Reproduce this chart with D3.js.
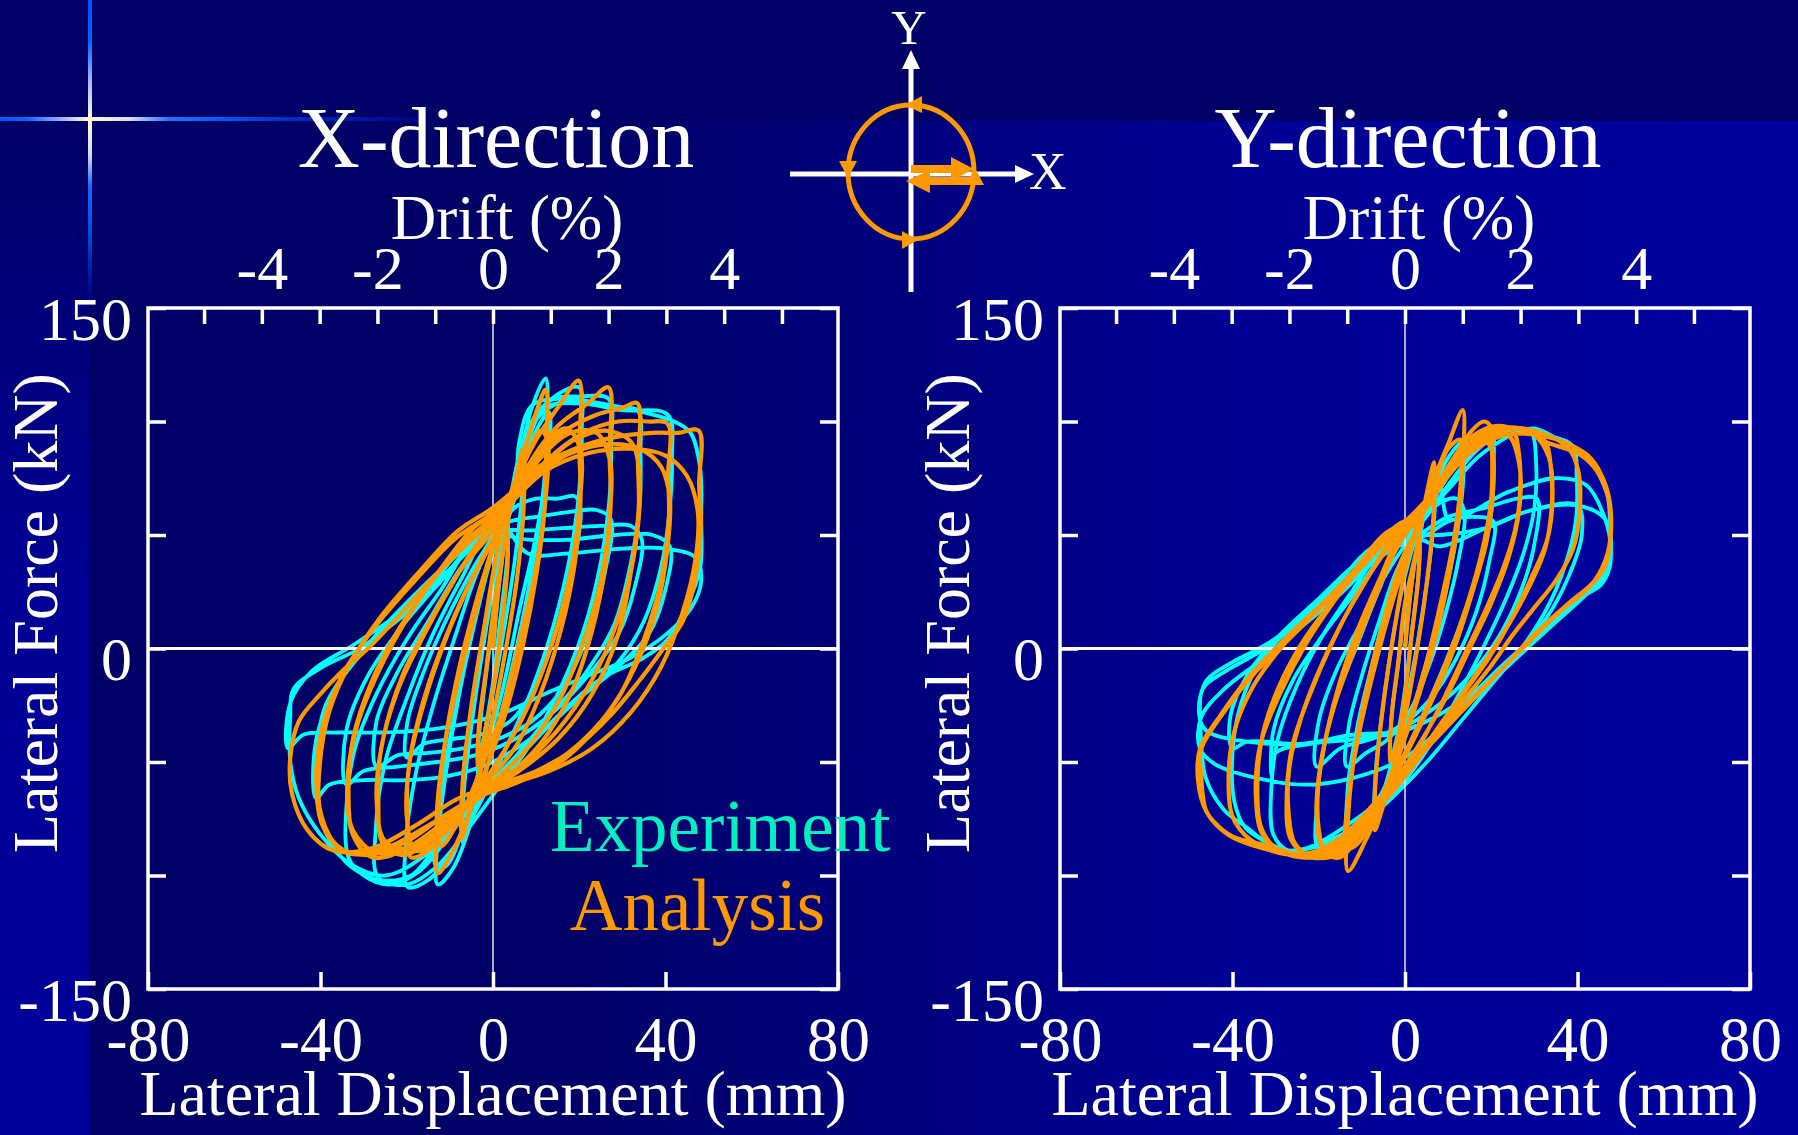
<!DOCTYPE html>
<html><head><meta charset="utf-8">
<script src="https://cdn.jsdelivr.net/npm/d3@7"></script>
<style>
html,body{margin:0;padding:0;background:#000066;overflow:hidden}
svg{display:block}
</style>
</head><body>
<svg id="c" width="1798" height="1135"></svg>
<script>
// ---------- data ----------
const dispTicks = [-80, -40, 0, 40, 80];
const forceTicks = [-150, -100, -50, 0, 50, 100, 150];
const forceLabels = [-150, 0, 150];
const driftTicks = [-5, -4, -3, -2, -1, 0, 1, 2, 3, 4, 5];
const driftLabels = [-4, -2, 0, 2, 4];
const mmPerDrift = 13.4;
const seriesNames = ["Experiment", "Analysis"];
const panelTitles = ["X-direction", "Y-direction"];

// X-direction, experiment (displacement mm, force kN), one array per cycle
const expX = [
[[0,0],[1.5,30],[3.5,56],[3.3,40],[1.5,10],[0,-15],[-2,-38],[-3.5,-56],[-3.3,-40],[-1.5,-10],[0.5,18]],
[[2.5,48],[5,76],[7,92],[6.8,70],[5,38],[2,2],[-1,-30],[-4,-60],[-7,-86],[-6.8,-64],[-5,-34],[-2,4],[0.5,32]],
[[3,58],[6,82],[9,106],[12.2,119],[12.6,100],[12,76],[10,46],[7,14],[3,-20],[-1,-50],[-5,-76],[-9,-96],[-12.8,-104],[-13,-88],[-11,-56],[-8,-22],[-4,14],[0,42]],
[[4,60],[7,80],[10,96],[13,104],[12.5,80],[10,50],[6,16],[2,-20],[-3,-54],[-7,-80],[-11,-96],[-13.2,-96],[-12.2,-66],[-9,-30],[-5,5],[-1,36]],
[[3,60],[7,86],[11,104],[15,112],[20,115],[20.6,96],[20,70],[18,42],[14,10],[9,-18],[3,-44],[-3,-68],[-9,-88],[-15,-102],[-19.8,-105],[-20.2,-86],[-18,-56],[-14,-26],[-9,4],[-4,32],[0,48]],
[[5,62],[10,66],[15,66],[19,67],[20.3,62],[19,40],[15,10],[10,-16],[4,-32],[-3,-38],[-10,-40],[-16,-42],[-20,-48],[-19.8,-32],[-16,-10],[-11,12],[-5,34],[0,50]],
[[5,72],[9,100],[14,110],[20,111],[26.8,110],[27.4,90],[27,66],[25,38],[21,8],[15,-20],[8,-44],[1,-62],[-6,-80],[-13,-96],[-20,-104],[-26.6,-101],[-27.2,-80],[-25,-50],[-20,-22],[-14,6],[-7,32],[-1,52]],
[[4,56],[10,58],[17,60],[24,61],[27.3,57],[26,34],[22,6],[16,-18],[9,-32],[1,-40],[-7,-44],[-15,-46],[-22,-47],[-27,-52],[-27,-32],[-22,-10],[-15,12],[-8,34],[-1,52]],
[[5,70],[9,98],[15,108],[22,109],[29,106],[33.5,105],[34.2,86],[34,64],[32,38],[28,10],[21,-12],[13,-30],[5,-48],[-3,-64],[-10,-82],[-17,-98],[-24,-104],[-30,-100],[-33.5,-92],[-34,-70],[-32,-44],[-27,-20],[-20,4],[-12,26],[-5,46]],
[[1,52],[8,52],[16,53],[25,54],[32,54],[34.5,48],[33,28],[29,6],[22,-12],[14,-28],[5,-40],[-4,-47],[-13,-50],[-22,-52],[-30,-54],[-34,-60],[-34,-36],[-29,-12],[-21,10],[-12,30],[-5,46]],
[[3,60],[7,90],[12,106],[20,108],[30,105],[40.5,103],[41.5,84],[41,62],[39,36],[35,12],[29,-6],[21,-20],[12,-36],[4,-52],[-4,-66],[-12,-84],[-19,-100],[-26,-102],[-33,-96],[-38,-84],[-40.5,-70],[-41,-50],[-39,-26],[-33,-8],[-25,8],[-16,24],[-8,42]],
[[0,50],[8,48],[18,48],[28,50],[37,50],[41,45],[40,26],[36,6],[29,-8],[20,-22],[10,-38],[0,-50],[-10,-56],[-20,-58],[-30,-58],[-38,-60],[-41,-66],[-41,-40],[-36,-16],[-28,4],[-18,24],[-8,42]],
[[1,57],[5,67],[6,90],[9,107],[15,110],[25,108],[35,104],[42,100],[45.8,95],[48,80],[48.3,57],[48,35],[44.7,18],[40.5,4],[35,-4],[24.5,-14],[13.8,-32],[3.2,-53],[-5,-70],[-15,-90],[-25,-100],[-33,-95],[-40,-82],[-45,-66],[-47,-50],[-47,-30],[-46.3,-18],[-39.4,-8],[-30.9,0],[-22.4,12],[-13.8,26],[-5.3,45],[1,57]],
[[8,42],[18,42],[30,44],[40,44],[47,40],[48.3,30],[46,18],[40,6],[32,-4],[22,-12],[12,-20],[3,-28],[-6,-33],[-16,-36],[-26,-37],[-36,-37],[-44,-38],[-47.5,-44],[-47,-24],[-42,-10],[-32,2],[-20,18],[-10,35],[-2,50]]
];

// X-direction, analysis
const anaX = [
[[0,0],[1.5,30],[3.2,52],[3.4,38],[2,10],[0,-18],[-2,-38],[-3.5,-52],[-3.3,-35],[-1.5,-8],[0.5,22]],
[[2.5,45],[5,72],[7,88],[7.1,62],[5.5,30],[3,0],[0,-30],[-3,-55],[-6,-76],[-7.2,-84],[-7,-58],[-5,-25],[-2,10],[0.5,38]],
[[3,60],[7,86],[10,104],[12.2,114],[12.3,86],[12,62],[10,32],[7,2],[3,-28],[-1,-50],[-5,-70],[-9,-88],[-12.8,-99],[-12.7,-72],[-11,-40],[-8,-10],[-4,20],[0,45]],
[[4,68],[8,86],[11,96],[12.6,92],[12.2,66],[10,36],[6,2],[2,-28],[-3,-54],[-8,-76],[-12,-87],[-13,-78],[-11.5,-46],[-8,-14],[-4,16],[0,44]],
[[5,72],[10,92],[15,106],[19.9,118],[20,88],[20.3,66],[19,38],[16,10],[11,-20],[5,-44],[-2,-60],[-9,-76],[-15,-89],[-19,-92],[-19.8,-78],[-19.5,-52],[-16,-24],[-11,4],[-5,30],[0,48]],
[[6,74],[12,90],[17,97],[20.2,88],[20,62],[18,34],[14,4],[8,-26],[1,-50],[-7,-71],[-13,-85],[-18,-89],[-20,-74],[-19,-46],[-15,-16],[-9,14],[-3,38],[2,55]],
[[8,80],[15,98],[22,108],[26.8,115],[27,86],[27.3,64],[26,36],[23,8],[18,-20],[11,-42],[3,-57],[-6,-70],[-14,-84],[-21,-91],[-25.5,-86],[-26.6,-68],[-26,-45],[-22,-18],[-16,6],[-9,30],[-3,48]],
[[4,64],[11,84],[18,95],[24,95],[27.2,82],[27,58],[25,30],[21,3],[15,-24],[7,-46],[-2,-62],[-11,-77],[-19,-88],[-25,-85],[-27,-66],[-25.5,-40],[-21,-12],[-14,14],[-7,36],[0,52]],
[[8,78],[16,95],[24,103],[30,106],[33.5,108],[33.6,82],[33.8,62],[32,34],[29,6],[23,-20],[15,-40],[6,-54],[-4,-66],[-13,-79],[-21,-89],[-28,-92],[-32.5,-82],[-33.5,-64],[-32.5,-40],[-28,-14],[-22,8],[-14,30],[-7,46],[0,58]],
[[11,80],[19,92],[26,96],[32,91],[34,76],[33.5,52],[31,26],[26,-2],[19,-26],[10,-46],[0,-60],[-10,-74],[-19,-87],[-27,-90],[-32.5,-80],[-33.8,-60],[-31.5,-34],[-26,-8],[-19,16],[-11,38],[-4,54]],
[[4,64],[12,82],[21,95],[29,100],[36,100],[40.5,99],[40.6,76],[40.8,58],[39,30],[35,4],[29,-22],[20,-42],[10,-55],[0,-62],[-10,-72],[-20,-85],[-29,-91],[-36,-87],[-40,-72],[-40.2,-52],[-38,-28],[-33,-6],[-26,14],[-17,34],[-8,52]],
[[0,62],[9,76],[18,86],[27,90],[34,88],[39,80],[41,66],[40.5,45],[38,18],[33,-8],[26,-30],[17,-48],[7,-58],[-4,-66],[-15,-78],[-25,-88],[-34,-90],[-39.5,-78],[-41,-58],[-39.5,-34],[-35,-12],[-28,8],[-19,28],[-9,48]],
[[0,60],[9,78],[19,88],[28,93],[37,95],[43,95],[47.7,96],[47.8,72],[48.2,55],[47,32],[44,12],[39.5,0],[34,-14],[27,-30],[19,-44],[10,-54],[1,-60],[-8,-66],[-18,-78],[-28,-88],[-37,-89],[-43,-80],[-46.6,-64],[-47,-48],[-45,-32],[-40,-20],[-35,-10],[-29,0],[-22,14],[-14,31],[-6,46]],
[[2,60],[12,78],[22,86],[32,88],[40,85],[45,76],[47.5,60],[47,40],[44,16],[39,-8],[32,-28],[23,-44],[13,-54],[3,-60]]
];

// Y-direction, experiment
const expY = [
[[0,0],[1.5,28],[3.4,50],[3.2,34],[1.5,6],[0,-18],[-1.5,-36],[-3.5,-50],[-3.2,-32],[-1.5,-6],[0,18]],
[[2.5,40],[5,64],[7,78],[6.8,58],[5,28],[2.5,-2],[0,-26],[-3,-50],[-5.5,-66],[-7,-74],[-6.7,-52],[-5,-24],[-2.5,8],[0,32]],
[[3,52],[7,72],[10,84],[13.4,91],[13.5,74],[12,50],[9,22],[5,-6],[1,-32],[-3,-54],[-8,-72],[-13,-82],[-13.3,-62],[-11,-34],[-7.5,-6],[-4,20],[0,42]],
[[4,56],[8,64],[12,66],[13.8,60],[12.5,40],[9.5,16],[5.5,-8],[1,-28],[-4,-40],[-9,-46],[-13.5,-52],[-13,-34],[-10,-12],[-6,12],[-2,34]],
[[3,52],[8,70],[13,84],[17,94],[20,97],[20.6,82],[20,60],[17.5,38],[13.5,14],[9,-8],[4,-30],[-1,-50],[-7,-68],[-13,-80],[-20,-88],[-20.5,-70],[-19,-46],[-16,-22],[-11,2],[-6,26],[-1,46]],
[[5,50],[10,56],[16,58],[20.5,56],[19.5,38],[16.5,16],[12,-4],[6,-22],[-1,-34],[-8,-40],[-15,-44],[-20.5,-52],[-20,-32],[-16,-10],[-10,12],[-4,34]],
[[3,54],[8,70],[14,86],[20,95],[27,97],[29.4,95],[30.4,82],[30,62],[27.5,42],[23,20],[17.5,-2],[12,-22],[6,-42],[0,-58],[-7,-72],[-15,-84],[-22,-88],[-27,-89],[-30.5,-82],[-31,-62],[-29.5,-40],[-25,-16],[-19,6],[-12,26],[-5,44]],
[[3,50],[10,58],[18.7,62],[26,66],[30.6,66],[30,46],[27,26],[22,6],[15,-12],[7,-26],[-2,-36],[-12,-40],[-22,-42],[-30,-46],[-31,-56],[-30.5,-36],[-26,-14],[-19,6],[-11,26],[-4,44]],
[[4,56],[10,72],[17,88],[24,96],[34.7,93],[39,89],[39.8,76],[39.6,56],[37,36],[33,18],[27,0],[20,-16],[13,-32],[6,-48],[-1,-62],[-8,-74],[-17,-84],[-27,-89],[-32.4,-85],[-37,-79],[-39.5,-68],[-40,-46],[-38,-24],[-33,-4],[-25,12],[-16,28],[-8,44]],
[[1,50],[8.1,50],[18.7,53],[29.4,61],[40,63],[41,50],[38,32],[33,14],[26,-2],[18,-16],[9,-28],[0,-36],[-12.1,-38],[-23.9,-42],[-36.6,-41],[-40,-44],[-40.5,-30],[-36,-10],[-29,6],[-20,22],[-11,38],[-3,48]],
[[4,58],[10,70],[18,86],[29.4,97],[34.7,93],[39,89],[43.2,83],[45.4,75],[47,67],[47.5,57],[47.5,36],[45.4,28],[42.2,24],[35.8,16],[28,2],[20,-12],[12,-28],[4,-46],[-3,-62],[-12,-76],[-22.8,-88],[-27,-89],[-32.4,-85],[-36.6,-79],[-42,-71],[-46.2,-57],[-47.3,-40],[-47.3,-20],[-46.2,-16],[-39.8,-8],[-32.4,0],[-22.8,14],[-14.3,28],[-7.9,40],[-1.5,53],[4.9,63],[8.1,71]],
[[10.2,57],[24,69],[34.7,75],[42,72],[46.4,57],[47.6,44],[46,32],[41,22],[34,10],[26,-4],[17,-20],[8,-36],[0,-48],[-12,-57],[-23,-60],[-34.5,-57],[-44,-51],[-47.6,-44],[-47.2,-30],[-42,-18],[-34,-6],[-25,8],[-15,24],[-6,40]],
[[3,48],[8.1,45],[18.7,53],[29.4,61],[40,63],[46.4,57],[47.8,46],[46,34],[40,22],[32,8],[23,-8],[14,-22],[5,-32],[-4,-38],[-12.1,-38],[-23.9,-42],[-36.6,-41],[-46.2,-36],[-47.8,-28],[-46,-14],[-40,-6],[-32,2],[-22,16],[-12,32],[-4,46]]
];

// Y-direction, analysis
const anaY = [
[[0,0],[1.5,28],[3.3,50],[3.1,32],[1.5,5],[0,-20],[-1.5,-38],[-3.4,-50],[-3.1,-30],[-1.5,-5],[0,20]],
[[2.5,42],[5,68],[6.8,82],[6.6,58],[5,28],[2.5,-4],[0,-30],[-3,-55],[-5.5,-72],[-7,-80],[-6.7,-55],[-5,-24],[-2.5,8],[0,34]],
[[3,55],[7,76],[10,90],[13.4,105],[13.4,82],[12.5,58],[10,30],[7,4],[3,-22],[-1,-45],[-5,-66],[-9,-84],[-13.2,-98],[-13.1,-72],[-11.5,-44],[-8.5,-15],[-5,12],[-1,38]],
[[3,54],[7,74],[10,88],[12.8,92],[13,76],[11.5,50],[8.5,22],[5,-6],[1,-32],[-3,-54],[-7,-72],[-11,-86],[-13.5,-88],[-13,-64],[-10.5,-36],[-7,-8],[-3,20],[1,44]],
[[4,60],[8,72],[12,86],[15.5,96],[18.2,100],[19.8,98],[20.2,86],[20,66],[18,44],[14.5,20],[10,-4],[5,-26],[0,-46],[-5,-64],[-10,-80],[-15,-92],[-18.5,-90],[-20.1,-78],[-20,-58],[-18,-36],[-15,-14],[-11,8],[-6,30],[-1,50]],
[[3,56],[8,74],[13,88],[17,94],[20,88],[20.4,70],[19,48],[15.5,24],[11,-2],[6,-24],[1,-44],[-4,-62],[-10,-80],[-15,-90],[-19,-88],[-20.5,-72],[-19.5,-50],[-16.5,-26],[-12,-2],[-7,22],[-2,44]],
[[3,58],[8,72],[12,86],[16,94],[21,98],[25,96],[26.4,86],[26.6,66],[25.5,52],[22.5,34],[18,14],[13,-6],[8,-26],[3,-44],[-3,-62],[-9,-78],[-15,-90],[-21,-92],[-25.5,-86],[-27,-72],[-26.8,-52],[-24,-30],[-20,-10],[-15,10],[-9,30],[-3,48]],
[[2,56],[8,74],[13,88],[19,96],[24,94],[26.6,80],[26.4,60],[24,40],[20,20],[15,0],[10,-20],[4,-40],[-2,-58],[-8,-76],[-15,-89],[-22,-92],[-26.5,-84],[-27.4,-64],[-26,-42],[-22,-20],[-17,2],[-11,24],[-4,44]],
[[3,58],[9,76],[15,90],[22,97],[29,96],[32.6,91],[33.8,80],[34,62],[32.5,44],[29,28],[24.5,12],[19.8,-2],[14,-18],[8,-34],[2,-50],[-4,-64],[-10,-78],[-17,-90],[-24,-92],[-30,-88],[-33.5,-78],[-34.2,-58],[-33,-38],[-29.5,-18],[-24,2],[-18,18],[-11,34],[-4,50]],
[[3,58],[10,78],[17,92],[24,97],[30,94],[33.4,84],[34.2,66],[33,48],[29.5,32],[25,14],[19.5,-4],[13.5,-20],[7,-38],[1,-54],[-6,-70],[-13,-84],[-21,-91],[-28,-90],[-33,-82],[-34.6,-64],[-33.5,-42],[-29,-20],[-23,2],[-16,22],[-9,40],[-2,54]],
[[4,60],[10,76],[17,90],[25,97],[33,94],[38,88],[40.2,78],[40.5,60],[39,44],[35,30],[30,18],[25,6],[19.8,-8],[13,-24],[6,-40],[0,-54],[-7,-68],[-14,-82],[-22,-90],[-30,-89],[-36,-84],[-40,-74],[-40.9,-56],[-39.5,-36],[-35,-16],[-28,2],[-20,18],[-12,34],[-5,50]],
[[2,58],[8.1,73],[13,86],[18.2,95],[26.2,97],[32.6,91],[40,86],[43.8,80],[46.4,71],[47.5,63],[47.6,49],[46.4,36],[42.2,26],[35.8,16],[28.3,2],[19.8,-14],[11.3,-30],[2.8,-47],[-3.6,-61],[-7.9,-71],[-13,-82],[-22.8,-91],[-31.3,-87],[-39.8,-83],[-44,-77],[-46.2,-71],[-47.3,-55],[-47.3,-44.5],[-42,-28],[-34.5,-10],[-27,4],[-18.5,20],[-10,36],[-2.6,51]],
[[2.8,61],[8,72],[15,86],[23,94],[31,94],[38,90],[43,84],[46.5,72],[47.8,58],[47,42],[44,30],[38,20],[31,8],[24,-6],[16,-22],[8,-38],[0,-54],[-7,-68],[-15,-84],[-24,-91],[-33,-88],[-41,-82],[-46,-72],[-48,-58],[-47.5,-44],[-43,-30],[-36,-12],[-28,4],[-19,20],[-10,36]]
];

// ---------- layout / style ----------
const W = 1798, H = 1135;
const FONT = "'Liberation Serif','Times New Roman',Times,serif";
const CYAN = "#00FFFF", ORANGE = "#FF9900", LEG_CYAN = "#00F0C0";
const plotW = 690, plotH = 681, plotTop = 308;
const panels = [
  {title: panelTitles[0], x0: 148, exp: expX, ana: anaX, legend: true},
  {title: panelTitles[1], x0: 1060, exp: expY, ana: anaY, legend: false}
];

const svg = d3.select("#c");
const defs = svg.append("defs");

function grad(id, x1, y1, x2, y2, stops) {
  const g = defs.append("linearGradient").attr("id", id)
    .attr("x1", x1).attr("y1", y1).attr("x2", x2).attr("y2", y2);
  stops.forEach(s => g.append("stop").attr("offset", s[0]).attr("stop-color", s[1]));
}
grad("gMain", 0, 0, 1, 0, [[0, "#000066"], [0.27, "#000066"], [0.68, "#000094"], [1, "#00009E"]]);
grad("gStrip", 0, 0, 0, 1, [[0, "#000066"], [0.45, "#000094"], [1, "#00009C"]]);
grad("gFlareH", 0, 0, 1, 0, [[0, "#0058FF"], [0.06, "#0066FF"], [0.14, "#8FA8FF"], [0.21, "#FFFFD0"], [0.31, "#D8DCF0"], [0.4, "#2A70FF"], [0.5, "#0060FF"], [0.68, "#0030C0"], [1, "#00008A"]]);
grad("gFlareV", 0, 0, 0, 1, [[0, "#0050FF"], [0.14, "#0066FF"], [0.27, "#A8B8FF"], [0.4, "#FFFFD0"], [0.52, "#D0D8F0"], [0.62, "#1E66FF"], [0.77, "#0050E0"], [0.9, "#0020A8"], [1, "#000080"]]);

// background
svg.append("rect").attr("x", 0).attr("y", 0).attr("width", W).attr("height", H).attr("fill", "#000066");
svg.append("rect").attr("x", 89).attr("y", 121).attr("width", W - 89).attr("height", H - 121).attr("fill", "url(#gMain)");
svg.append("rect").attr("x", 0).attr("y", 121).attr("width", 89).attr("height", H - 121).attr("fill", "url(#gStrip)");
svg.append("rect").attr("x", 0).attr("y", 117).attr("width", 420).attr("height", 4).attr("fill", "url(#gFlareH)");
svg.append("rect").attr("x", 88).attr("y", 0).attr("width", 4).attr("height", 300).attr("fill", "url(#gFlareV)");

function styleAxis(g, fs) {
  g.attr("font-family", FONT).attr("font-size", fs).attr("color", "#fff");
  g.select(".domain").remove();
  g.selectAll(".tick line").attr("stroke-width", 3.5);
  g.selectAll(".tick text").attr("fill", "#fff");
  g.selectAll(".tick text").filter(function () { return this.textContent === ""; }).remove();
}

panels.forEach(p => {
  const x = d3.scaleLinear().domain([-80, 80]).range([p.x0, p.x0 + plotW]);
  const y = d3.scaleLinear().domain([-150, 150]).range([plotTop + plotH, plotTop]);
  const xd = d3.scaleLinear().domain([-80 / mmPerDrift, 80 / mmPerDrift]).range([p.x0, p.x0 + plotW]);
  const g = svg.append("g");
  const line = d3.line().x(d => x(d[0])).y(d => y(d[1])).curve(d3.curveCatmullRom.alpha(0.5));

  // experiment curves
  g.append("path").attr("d", line(p.exp.flat())).attr("fill", "none")
    .attr("stroke", CYAN).attr("stroke-width", 3.8).attr("stroke-linejoin", "round");
  // zero lines
  g.append("line").attr("x1", x(0)).attr("x2", x(0)).attr("y1", plotTop).attr("y2", plotTop + plotH)
    .attr("stroke", "#e6e6e6").attr("stroke-width", 1.5);
  g.append("line").attr("x1", x(-80)).attr("x2", x(80)).attr("y1", y(0)).attr("y2", y(0))
    .attr("stroke", "#fff").attr("stroke-width", 3);
  // analysis curves
  g.append("path").attr("d", line(p.ana.flat())).attr("fill", "none")
    .attr("stroke", ORANGE).attr("stroke-width", 4.2).attr("stroke-linejoin", "round");

  // axes
  const axB = g.append("g").attr("transform", `translate(0,${plotTop + plotH})`)
    .call(d3.axisBottom(x).tickValues(dispTicks).tickFormat(d => d).tickSizeInner(-17).tickSizeOuter(0).tickPadding(27));
  styleAxis(axB, 63);
  const axL = g.append("g").attr("transform", `translate(${p.x0},0)`)
    .call(d3.axisLeft(y).tickValues(forceTicks).tickFormat(d => forceLabels.includes(d) ? d : "").tickSizeInner(-18).tickSizeOuter(0).tickPadding(16));
  styleAxis(axL, 62);
  axL.selectAll(".tick text").attr("dy", "0.5em");
  const axR = g.append("g").attr("transform", `translate(${p.x0 + plotW},0)`)
    .call(d3.axisRight(y).tickValues(forceTicks).tickFormat("").tickSizeInner(-18).tickSizeOuter(0));
  styleAxis(axR, 62);
  const axT = g.append("g").attr("transform", `translate(0,${plotTop})`)
    .call(d3.axisTop(xd).tickValues(driftTicks).tickFormat(d => driftLabels.includes(d) ? d : "").tickSizeInner(-16).tickSizeOuter(0).tickPadding(19));
  styleAxis(axT, 62);

  // frame
  g.append("rect").attr("x", p.x0).attr("y", plotTop).attr("width", plotW).attr("height", plotH)
    .attr("fill", "none").attr("stroke", "#fff").attr("stroke-width", 3.5);

  // titles and axis labels
  const t = (txt, tx, ty, fs, anchor, fill) => g.append("text").text(txt).attr("x", tx).attr("y", ty)
    .attr("font-family", FONT).attr("font-size", fs).attr("text-anchor", anchor || "middle").attr("fill", fill || "#fff");
  t(p.title, x(0) + 3, 167, 86);
  t("Drift (%)", x(0) + 14, 239, 63);
  t("Lateral Displacement (mm)", x(0), 1115, 64);
  g.append("text").text("Lateral Force (kN)")
    .attr("transform", `translate(${p.x0 - 91},613) rotate(-90)`)
    .attr("font-family", FONT).attr("font-size", 64).attr("text-anchor", "middle").attr("fill", "#fff");

  if (p.legend) {
    t(seriesNames[0], x(13.2), 851, 73, "start", LEG_CYAN);
    t(seriesNames[1], x(17.8), 930, 73, "start", ORANGE);
  }
});

// ---------- direction sketch ----------
const cg = svg.append("g");
cg.append("line").attr("x1", 911).attr("y1", 292).attr("x2", 911).attr("y2", 64).attr("stroke", "#fff").attr("stroke-width", 5);
cg.append("path").attr("d", "M911,50 L902,69 L920,69 Z").attr("fill", "#fff");
cg.append("line").attr("x1", 790).attr("y1", 174).attr("x2", 1018).attr("y2", 174).attr("stroke", "#fff").attr("stroke-width", 5);
cg.append("path").attr("d", "M1034,174 L1015,165 L1015,183 Z").attr("fill", "#fff");
cg.append("ellipse").attr("cx", 911).attr("cy", 172).attr("rx", 63).attr("ry", 67)
  .attr("fill", "none").attr("stroke", ORANGE).attr("stroke-width", 5);
const tri = d => cg.append("path").attr("d", d).attr("fill", ORANGE);
tri("M905,105 L922,96 L922,113 Z");      // top, pointing left
tri("M848,178 L839,161 L857,161 Z");      // left, pointing down
tri("M918,240 L902,231 L902,249 Z");      // bottom, pointing right
tri("M975,168 L966,185 L984,185 Z");      // right, pointing up
// double arrow
cg.append("rect").attr("x", 911).attr("y", 165).attr("width", 42).attr("height", 8).attr("fill", ORANGE);
tri("M974,169 L951,157 L951,181 Z");
cg.append("rect").attr("x", 928).attr("y", 177).attr("width", 46).attr("height", 8).attr("fill", ORANGE);
tri("M906,181 L930,170 L930,193 Z");
cg.append("text").text("Y").attr("x", 909).attr("y", 44).attr("font-family", FONT).attr("font-size", 49)
  .attr("text-anchor", "middle").attr("fill", "#fff");
cg.append("text").text("X").attr("x", 1029).attr("y", 189).attr("font-family", FONT).attr("font-size", 52)
  .attr("fill", "#fff");
</script>
</body></html>
